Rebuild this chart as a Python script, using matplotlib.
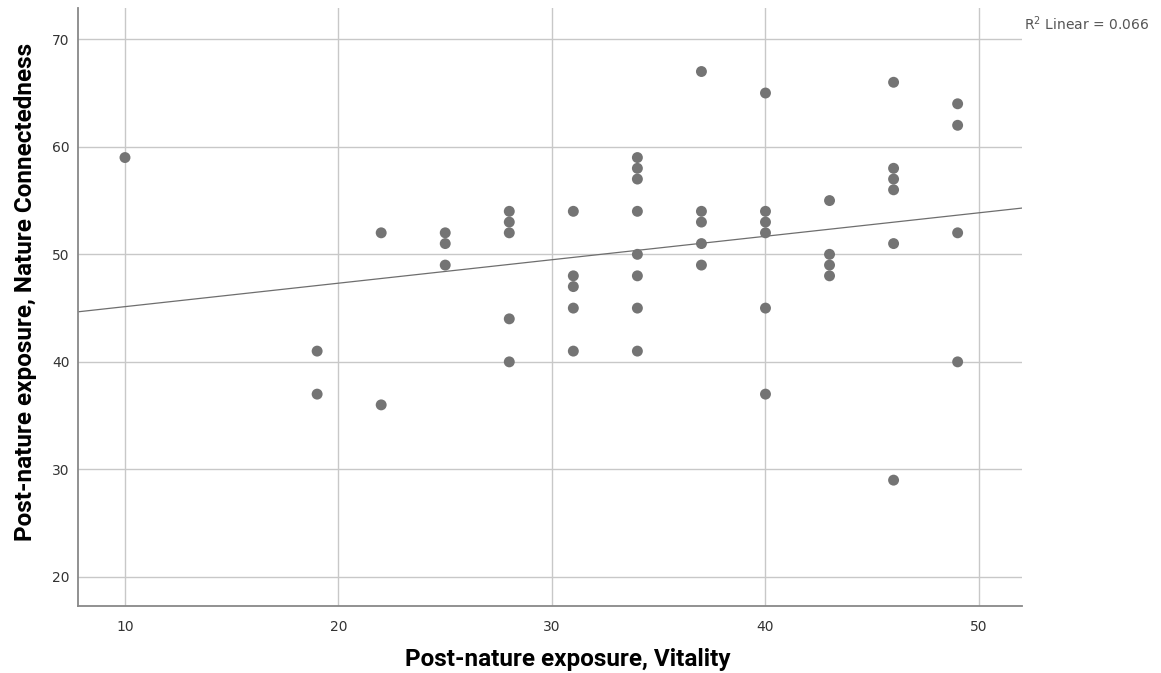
import numpy as np
import matplotlib.pyplot as plt

# vitality (x) and nature connectedness (y)
vitality = [10,
            19, 19,
            22, 22,
            25, 25, 25,
            28, 28, 28, 28, 28,
            31, 31, 31, 31, 31,
            34, 34, 34, 34, 34, 34, 34, 34,
            37, 37, 37, 37, 37,
            40, 40, 40, 40, 40, 40,
            43, 43, 43, 43,
            46, 46, 46, 46, 46, 46,
            49, 49, 49, 49]
connectedness = [59,
                 41, 37,
                 52, 36,
                 52, 51, 49,
                 54, 53, 52, 44, 40,
                 54, 48, 47, 45, 41,
                 59, 58, 57, 54, 50, 48, 45, 41,
                 67, 54, 53, 51, 49,
                 65, 54, 53, 52, 45, 37,
                 55, 50, 49, 48,
                 66, 58, 57, 56, 51, 29,
                 64, 62, 52, 40]
r2_label = 0.066

x = np.array(vitality, dtype=float)
y = np.array(connectedness, dtype=float)
slope, intercept = np.polyfit(x, y, 1)

fig = plt.figure(figsize=(11.61, 6.73), dpi=100)
ax = fig.add_axes([0.0672, 0.0996, 0.8128, 0.8884])

xlim = (7.8, 52.0)
ylim = (17.3, 72.9)
ax.set_xlim(xlim)
ax.set_ylim(ylim)

ax.set_xticks([10, 20, 30, 40, 50])
ax.set_yticks([20, 30, 40, 50, 60, 70])
ax.grid(True, color='#c8c8c8', lw=1.0, zorder=0)
ax.set_axisbelow(True)

ax.scatter(x, y, s=62, color='#747474', edgecolors='none', zorder=3)

xs = np.array(xlim)
ax.plot(xs, intercept + slope * xs, color='#6e6e6e', lw=0.9, zorder=2)

for side in ['top', 'right']:
    ax.spines[side].set_visible(False)
for side in ['left', 'bottom']:
    ax.spines[side].set_color('#888888')
    ax.spines[side].set_linewidth(1.3)

ax.tick_params(length=0, labelsize=10, colors='#333333')
ax.tick_params(axis='x', pad=10)
ax.tick_params(axis='y', pad=6)

ax.set_xlabel('Post-nature exposure, Vitality', fontsize=17.5, fontweight='bold',
              family='Roboto')
ax.set_ylabel('Post-nature exposure, Nature Connectedness', fontsize=17.5,
              fontweight='bold', family='Roboto')
# SPSS puts the titles slightly off-centre
ax.xaxis.set_label_coords(0.519, -0.089)
ax.yaxis.set_label_coords(-0.056, 0.525)
ax.xaxis.label.set_va('center')
ax.yaxis.label.set_va('center')

fig.text(0.882, 0.965, '$\\mathregular{R^2}$ Linear = %.3f' % r2_label,
         fontsize=10, color='#555555', ha='left', va='center')

fig.savefig('out.png', dpi=100)
